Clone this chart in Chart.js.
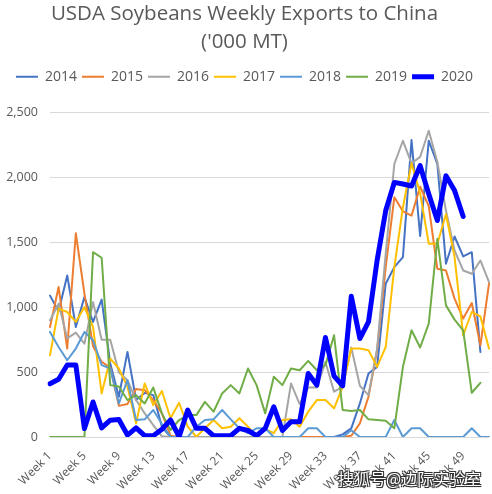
<!DOCTYPE html>
<html>
<head>
<meta charset="utf-8">
<script src="https://cdn.jsdelivr.net/npm/chart.js@4/dist/chart.umd.min.js"></script>
<style>
  html, body { margin: 0; padding: 0; background: #ffffff; }
  #wrap { position: relative; width: 492px; height: 494px; }
  #c { display: block; }
  #wm {
    position: absolute; left: 338px; top: 466px;
    font-family: "Noto Sans CJK SC", sans-serif; font-size: 16px; color: #ffffff;
    text-shadow: -1px -1px 0 #333, 1px -1px 0 #333, -1px 1px 0 #333, 1px 1px 0 #333, 0 0 2px #000;
    white-space: nowrap; letter-spacing: 0px;
  }
</style>
</head>
<body>
<div id="wrap">
  <canvas id="c" width="492" height="494"></canvas>
  <div id="wm">搜狐号@边际实验室</div>
</div>
<script>
// ---- data ----
const titleLines = ['USDA Soybeans Weekly Exports to China', "('000 MT)"];
const weeks = Array.from({ length: 52 }, (_, i) => 'Week ' + (i + 1));
const yTicks = [0, 500, 1000, 1500, 2000, 2500];
const seriesNames = ['2014', '2015', '2016', '2017', '2018', '2019', '2020'];

const y2014 = [1090,970,1246,848,1079,887,1059,567,310,656,285,340,323,79,0,0,0,0,0,0,0,0,0,0,0,0,0,0,0,0,0,0,0,0,20,67,259,490,541,1182,1310,1387,2290,1550,2284,2105,1336,1546,1392,1425,656,null];
const y2015 = [848,1156,682,1571,1105,700,579,536,240,255,370,361,285,182,10,0,0,0,0,0,0,0,0,0,0,0,0,0,0,0,0,0,0,0,0,10,105,310,669,1310,1848,1740,1707,1930,1780,1297,1284,1067,913,1033,707,1182];
const y2016 = [900,1028,760,805,720,1040,750,750,500,438,285,182,92,5,0,0,0,0,0,0,0,0,0,0,0,0,0,0,413,254,382,382,579,349,387,690,395,323,680,1413,2105,2284,2110,2160,2361,2120,1746,1438,1284,1259,1361,1194];
const y2017 = [631,990,964,887,1002,848,336,605,528,387,105,413,246,355,144,264,79,2,67,131,67,79,144,79,2,60,30,131,136,79,195,285,285,221,387,682,682,669,541,694,1310,1771,2110,1880,1490,1490,1718,1387,785,964,930,682];
const y2018 = [810,694,592,682,810,746,554,528,259,438,131,136,208,100,2,0,0,79,131,136,208,136,67,30,67,67,0,0,0,0,67,67,0,0,0,52,0,0,0,0,131,0,67,67,0,0,0,0,0,67,0,0];
const y2019 = [0,0,0,0,0,1425,1382,400,390,285,323,259,382,182,54,131,169,169,271,195,336,400,336,528,400,182,464,400,528,515,587,515,554,784,208,200,208,136,131,125,67,541,823,690,874,1528,1015,905,823,341,418,null];
const y2020 = [410,445,555,555,65,270,70,130,135,15,70,10,10,59,131,2,208,67,67,10,10,10,67,50,10,67,233,50,118,118,490,400,767,469,395,1085,759,887,1361,1746,1963,1951,1935,2092,1874,1669,2015,1900,1700,null,null,null];

const seriesValues = [y2014, y2015, y2016, y2017, y2018, y2019, y2020];
const seriesColors = ['#4472C4', '#ED7D31', '#A5A5A5', '#FFC000', '#5B9BD5', '#70AD47', '#0000FF'];
const seriesWidths = [2, 2, 2, 2, 2, 2, 5];

const FONT = '"Open Sans", sans-serif';
const TXT = '#595959';

const datasets = seriesNames.map((name, i) => ({
  label: name,
  data: seriesValues[i],
  borderColor: seriesColors[i],
  backgroundColor: seriesColors[i],
  borderWidth: seriesWidths[i],
  pointRadius: 0,
  pointHoverRadius: 0,
  tension: 0,
  fill: false,
  order: seriesNames.length - i,
  borderJoinStyle: 'round',
  borderCapStyle: 'round'
}));

const legendGap = {
  id: 'legendGap',
  beforeInit(chart) {
    const fit = chart.legend.fit;
    chart.legend.fit = function () {
      fit.bind(chart.legend)();
      this.height += 19;
    };
  }
};

new Chart(document.getElementById('c'), {
  type: 'line',
  data: { labels: weeks, datasets },
  plugins: [legendGap],
  options: {
    responsive: false,
    animation: false,
    layout: { padding: { left: 0, right: 3, top: 0, bottom: 0 } },
    plugins: {
      title: {
        display: true,
        text: titleLines,
        color: TXT,
        font: { family: FONT, size: 20.5, weight: 'normal', lineHeight: 1.36 },
        padding: { top: 0, bottom: 9 }
      },
      legend: {
        display: true,
        position: 'top',
        labels: {
          usePointStyle: true,
          pointStyle: 'line',
          pointStyleWidth: 22,
          color: TXT,
          font: { family: FONT, size: 14 },
          padding: 5,
          sort: (a, b) => a.datasetIndex - b.datasetIndex
        }
      },
      tooltip: { enabled: false }
    },
    scales: {
      x: {
        grid: { display: false },
        border: { display: false },
        ticks: {
          autoSkip: false,
          maxRotation: 45,
          minRotation: 45,
          color: TXT,
          font: { family: FONT, size: 12 },
          padding: 4,
          callback: function (v, i) { return i % 4 === 0 ? weeks[i] : null; }
        },
        afterFit(scale) { scale.height = 57; }
      },
      y: {
        min: 0,
        max: 2500,
        afterBuildTicks(scale) { scale.ticks = yTicks.map(v => ({ value: v })); },
        grid: { color: '#D9D9D9', lineWidth: 1, drawTicks: false },
        border: { display: false },
        ticks: {
          color: TXT,
          font: { family: FONT, size: 12.5 },
          padding: 12,
          callback: (v) => v.toLocaleString('en-US')
        },
        afterFit(scale) { scale.width = 50; }
      }
    }
  }
});
</script>
</body>
</html>
